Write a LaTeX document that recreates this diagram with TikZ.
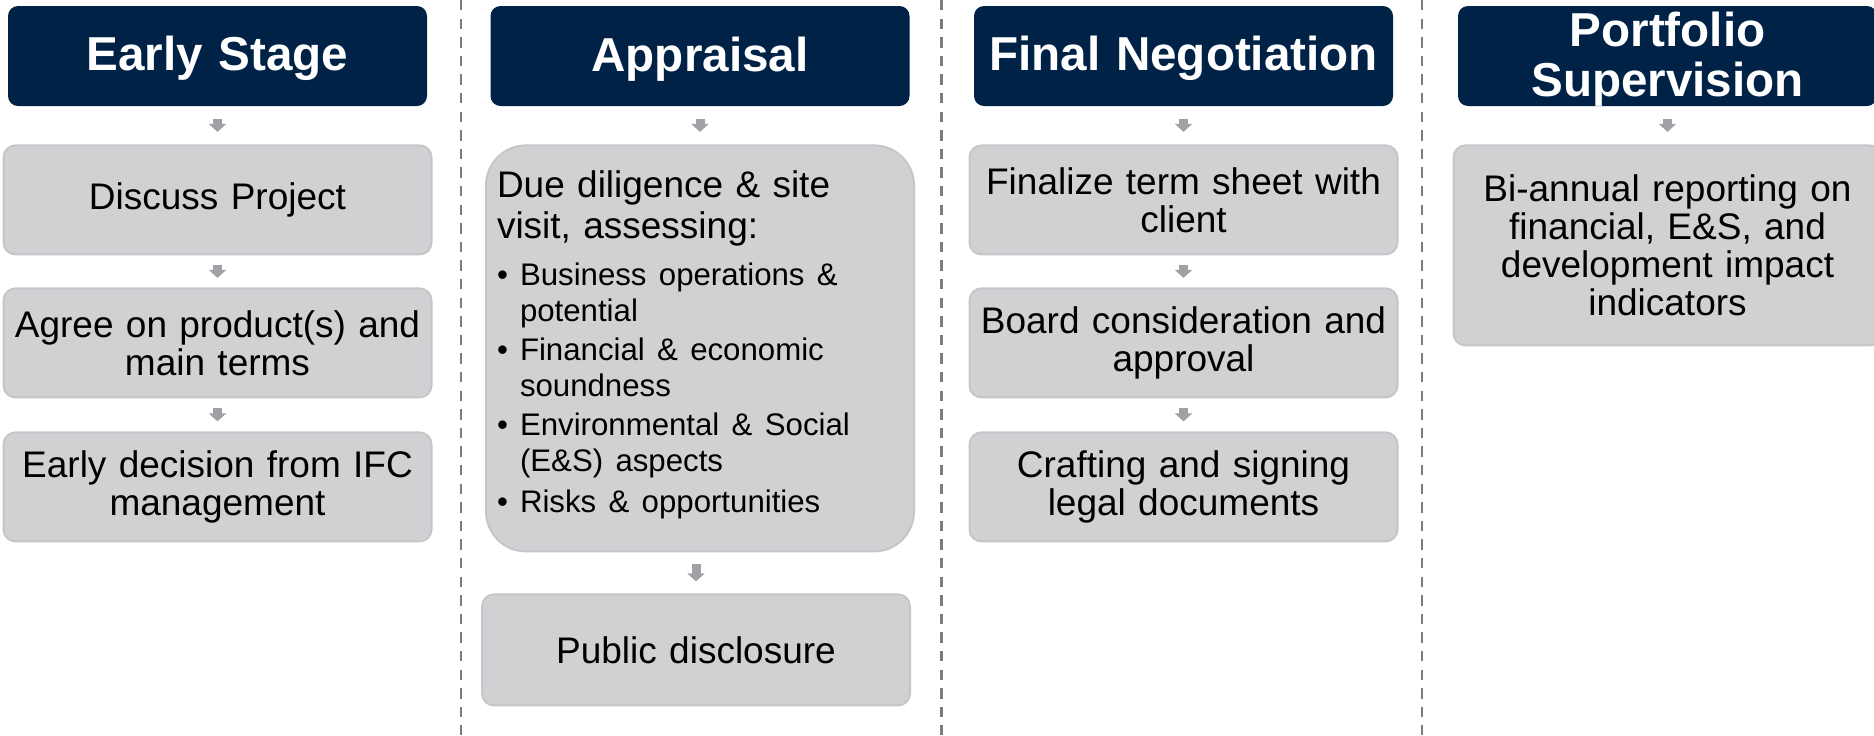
\documentclass[tikz,border=0pt]{standalone}
\usepackage{fontspec}
\setmainfont{Liberation Sans}
\usepackage{tikz}
\usetikzlibrary{positioning}
\usetikzlibrary{arrows.meta}

\definecolor{ifcnavy}{RGB}{0,34,70}
\definecolor{stepfill}{RGB}{208,209,211}
\definecolor{stepedge}{RGB}{197,198,201}
\definecolor{arrowgray}{RGB}{160,161,164}
\definecolor{sepgray}{RGB}{125,125,125}

\newcommand{\assessitem}[1]{\par\vspace{1.5pt}\hangindent=11.5pt\hangafter=1\noindent\makebox[11.5pt][l]{\textbullet}#1}

\tikzset{
    header/.style={fill=ifcnavy, rounded corners=5pt, minimum width=209.5pt,
        minimum height=50pt, text width=205pt, align=center, inner sep=0pt,
        text=white, font=\fontsize{23.8pt}{25pt}\selectfont\bfseries,
        execute at begin node={\rule{0pt}{20pt}}},
    stepbox/.style={fill=stepfill, draw=stepedge, line width=1pt, rounded corners=6pt,
        minimum width=214pt, minimum height=54.5pt, text width=206pt, align=center,
        inner sep=2pt, font=\fontsize{18.5pt}{19pt}\selectfont},
    flow/.style={arrowgray, line width=4.5pt, -{Triangle[width=8.5pt, length=4pt]},
        shorten <=#1, shorten >=#1},
    separator/.style={sepgray, line width=1.3pt, dash pattern=on 5.2pt off 4.1pt},
}

\begin{document}
\begin{tikzpicture}[x=0.5pt, y=-0.5pt]
    \useasboundingbox (0,0) rectangle (1874,735);

    \draw[separator] (461,0) -- (461,735);
    \draw[separator] (941.5,0) -- (941.5,735);
    \draw[separator] (1422,0) -- (1422,735);

    \node[header] (early) at (217.5,56) {Early Stage};
    \node[header] (appraisal) at (700,56) {Appraisal};
    \node[header] (final) at (1183.5,56) {Final Negotiation};
    \node[header] (portfolio) at (1667.5,56) {Portfolio\\Supervision};

    \node[stepbox, below=19pt of early] (discuss) {Discuss Project};
    \node[stepbox, below=16pt of discuss] (agree) {Agree on product(s) and\\main terms};
    \node[stepbox, below=16.5pt of agree] (decision) {Early decision from IFC\\management};

    \node[stepbox, below=19pt of appraisal, minimum height=203pt, rounded corners=20pt,
        text width=203pt, align=left] (diligence) {
        {\fontsize{18.5pt}{20.8pt}\selectfont Due diligence \& site\\visit, assessing:\par}
        \vspace{4pt}
        \fontsize{15.6pt}{18pt}\selectfont
        \assessitem{Business operations \&\newline potential}
        \assessitem{Financial \& economic\newline soundness}
        \assessitem{Environmental \& Social\newline (E\&S) aspects}
        \assessitem{Risks \& opportunities\rule[-6.7pt]{0pt}{6.7pt}}
    };
    \node[stepbox, below=20.5pt of diligence, xshift=-2pt, minimum height=55.5pt] (disclosure) {Public disclosure};

    \node[stepbox, below=19pt of final] (termsheet) {Finalize term sheet with\\client};
    \node[stepbox, below=16pt of termsheet] (board) {Board consideration and\\approval};
    \node[stepbox, below=16.5pt of board] (legal) {Crafting and signing\\legal documents};

    \node[stepbox, below=19pt of portfolio, minimum height=100pt] (reporting)
    {Bi-annual reporting on\\financial, E\&S, and\\development impact\\indicators};

    \draw[flow=6.25pt] (early) -- (discuss);
    \draw[flow=4.75pt] (discuss) -- (agree);
    \draw[flow=5pt] (agree) -- (decision);
    \draw[flow=6.25pt] (appraisal) -- (diligence);
    \draw[flow=6pt] (disclosure.north |- diligence.south) -- (disclosure.north);
    \draw[flow=6.25pt] (final) -- (termsheet);
    \draw[flow=4.75pt] (termsheet) -- (board);
    \draw[flow=5pt] (board) -- (legal);
    \draw[flow=6.25pt] (portfolio) -- (reporting);
\end{tikzpicture}
\end{document}
